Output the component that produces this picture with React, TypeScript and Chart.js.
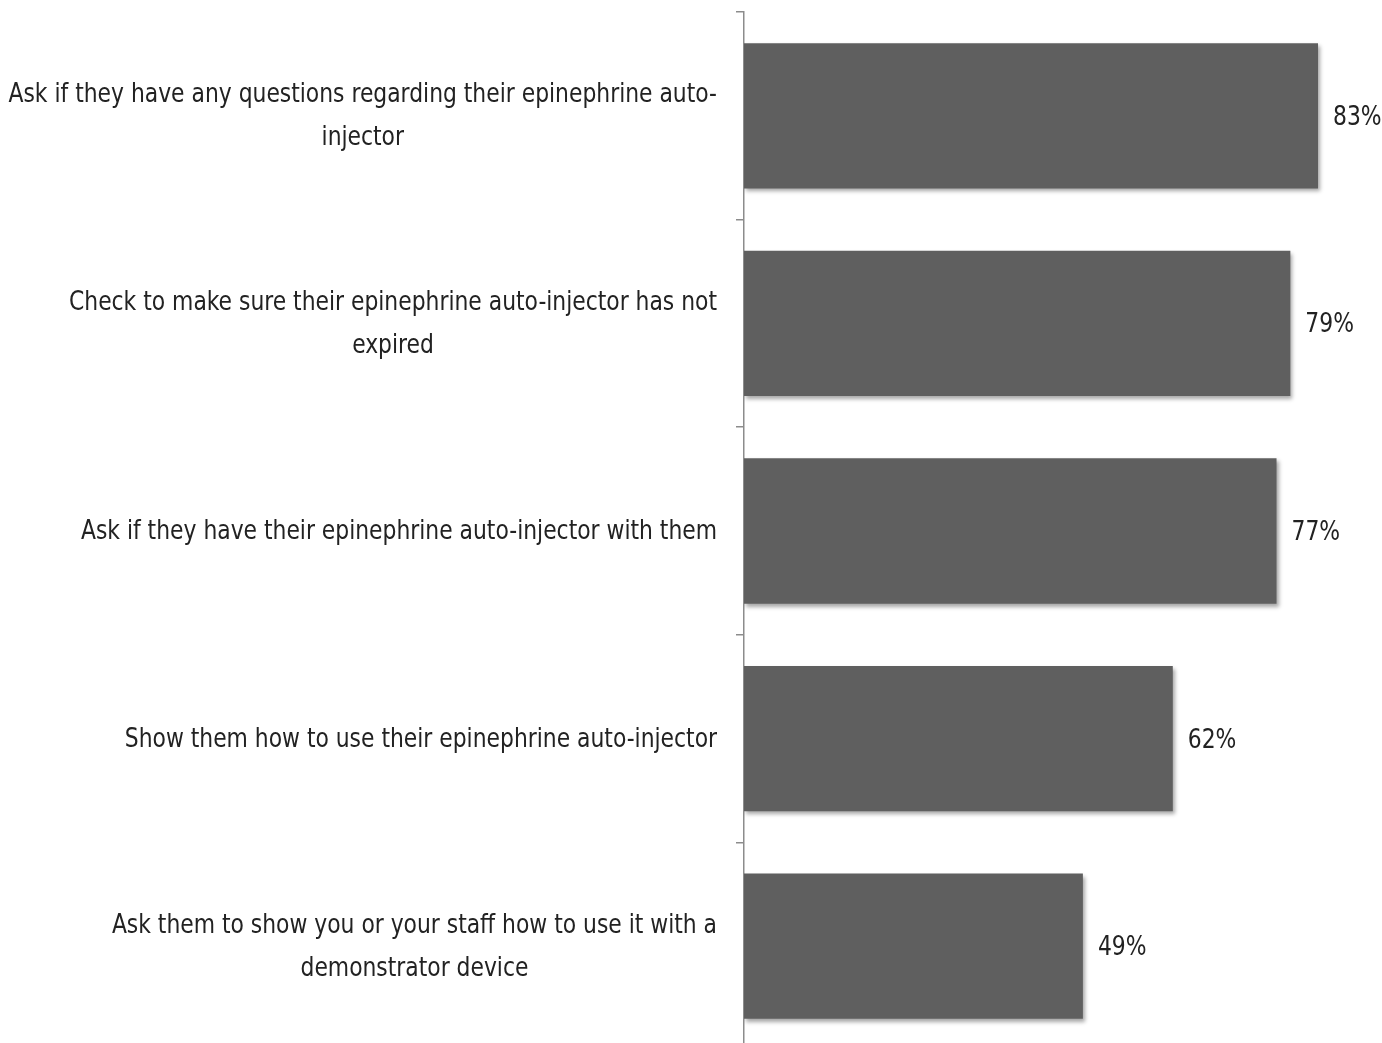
import { useEffect, useRef } from "react";
import { Chart, registerables } from "chart.js";

Chart.register(...registerables);

const categories: string[][] = [
  ["Ask if they have any questions regarding their epinephrine auto-", "injector"],
  ["Check to make sure their epinephrine auto-injector has not", "expired"],
  ["Ask if they have their epinephrine auto-injector with them"],
  ["Show them how to use their epinephrine auto-injector"],
  ["Ask them to show you or your staff how to use it with a", "demonstrator device"],
];
const values: number[] = [83, 79, 77, 62, 49];
const valueLabels: string[] = values.map((v) => v + "%");

const FONT = '"Liberation Sans Narrow", "DejaVu Sans Condensed", "Noto Sans", sans-serif';

const shadowPlugin = {
  id: "barShadow",
  beforeDatasetsDraw(chart: any) {
    const ctx = chart.ctx;
    ctx.save();
    ctx.shadowColor = "rgba(0,0,0,0.35)";
    ctx.shadowBlur = 4;
    ctx.shadowOffsetX = 2;
    ctx.shadowOffsetY = 3;
  },
  afterDatasetsDraw(chart: any) {
    chart.ctx.restore();
  },
};

const SX = 0.9;

const labelPlugin = {
  id: "customLabels",
  afterDraw(chart: any) {
    const ctx = chart.ctx;
    const y = chart.scales.y;
    const x = chart.scales.x;
    ctx.save();
    ctx.font = "27px " + FONT;
    ctx.fillStyle = "#222222";
    ctx.textBaseline = "middle";
    const lh = 43;
    const rightEdge = 717;
    categories.forEach((lines, i) => {
      const cy = y.getPixelForValue(i) + 1;
      const widest = Math.max(...lines.map((l) => ctx.measureText(l).width)) * SX;
      const cx = rightEdge - widest / 2;
      ctx.textAlign = "center";
      lines.forEach((line, j) => {
        const ly = cy - ((lines.length - 1) * lh) / 2 + j * lh;
        ctx.save();
        ctx.translate(cx, ly);
        ctx.scale(SX, 1);
        ctx.fillText(line, 0, 0);
        ctx.restore();
      });
    });
    ctx.textAlign = "left";
    values.forEach((v, i) => {
      const cy = y.getPixelForValue(i) + 2;
      ctx.save();
      ctx.translate(x.getPixelForValue(v) + 15, cy);
      ctx.scale(SX, 1);
      ctx.fillText(valueLabels[i], 0, 0);
      ctx.restore();
    });
    ctx.restore();
  },
};

export default function App() {
  const ref = useRef<HTMLCanvasElement | null>(null);
  useEffect(() => {
    if (!ref.current) return;
    const chart = new Chart(ref.current, {
      type: "bar",
      data: {
        labels: categories.map((c) => c.join(" ")),
        datasets: [
          {
            data: values,
            backgroundColor: "#5f5f5f",
            borderWidth: 0,
            barPercentage: 0.7,
            categoryPercentage: 1,
          },
        ],
      },
      options: {
        indexAxis: "y",
        responsive: false,
        animation: false,
        layout: { padding: { top: 12, bottom: 2, left: 0, right: 0 } },
        plugins: { legend: { display: false }, tooltip: { enabled: false } },
        scales: {
          x: { display: false, min: 0, max: 92.25 },
          y: {
            afterFit: (s: any) => {
              s.width = 744;
            },
            ticks: { display: false },
            grid: {
              display: true,
              drawOnChartArea: false,
              drawTicks: true,
              tickLength: 8,
              offset: true,
              color: "#8c8c8c",
              lineWidth: 1.5,
            },
            border: { display: true, color: "#8c8c8c", width: 1.5 },
          },
        },
      },
      plugins: [shadowPlugin, labelPlugin],
    });
    return () => chart.destroy();
  }, []);
  return (
    <div
      style={{
        position: "absolute",
        left: 0,
        top: 0,
        width: 1382,
        height: 1043,
        overflow: "hidden",
        background: "#ffffff",
      }}
    >
      <canvas ref={ref} width={1382} height={1052} style={{ display: "block" }} />
    </div>
  );
}
